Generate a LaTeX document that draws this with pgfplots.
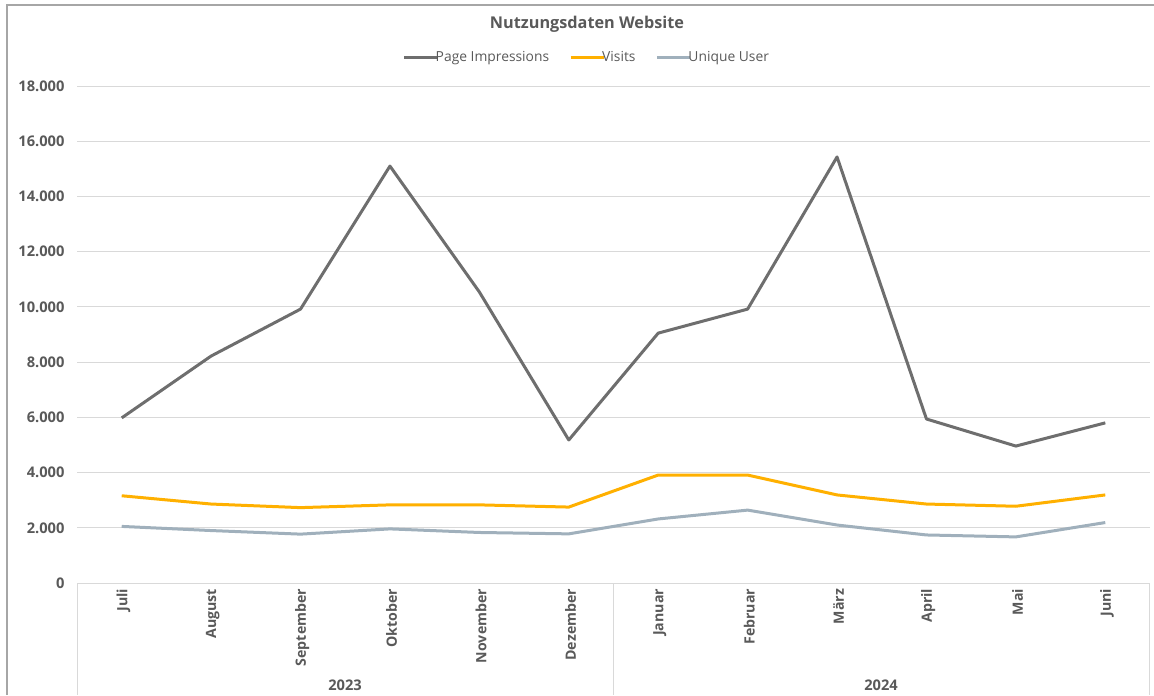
\documentclass[border=0pt]{standalone}
\usepackage{pgfplots}
\pgfplotsset{compat=1.18}
\usepackage{fontspec}
\setmainfont{Open Sans}
\definecolor{tc}{HTML}{595959}
\definecolor{gridc}{HTML}{D9D9D9}
\definecolor{framec}{HTML}{A6A6A6}
\definecolor{pic}{HTML}{6E6E6E}
\definecolor{visc}{HTML}{FFB000}
\definecolor{uuc}{HTML}{A0B0BC}
\begin{document}
\begin{tikzpicture}
\begin{scope}[x=0.6pt,y=-0.6pt]
\path[use as bounding box] (0,0) rectangle (1154,695);
\draw[framec, line width=0.9pt] (7,695) -- (7,5) -- (1154,5);
\node[font=\bfseries\fontsize{9.75}{12}\selectfont, text=tc] at (587,24) {Nutzungsdaten Website};
\draw[gridc, line width=0.6pt] (77,583) -- (77,695) (613,583) -- (613,695) (1149,583) -- (1149,695);
\node[font=\bfseries\fontsize{8.8}{10}\selectfont, text=tc] at (345,685) {2023};
\node[font=\bfseries\fontsize{8.8}{10}\selectfont, text=tc] at (881,685) {2024};
\end{scope}
\begin{axis}[
  at={(46.2pt,-349.8pt)}, anchor=south west,
  scale only axis, width=643.8pt, height=298.2pt,
  xmin=-0.5, xmax=11.5, ymin=0, ymax=18000,
  xtick={0,...,11},
  xticklabels={Juli,August,September,Oktober,November,Dezember,Januar,Februar,März,April,Mai,Juni},
  ytick={0,2000,...,18000},
  axis line style={draw=none},
  tick style={draw=none},
  ymajorgrids, major grid style={gridc, line width=0.6pt},
  /pgf/number format/assume math mode=true,
  /pgf/number format/1000 sep={.},
  scaled y ticks=false,
  ticklabel style={font=\bfseries\fontsize{8.8}{10}\selectfont, text=tc},
  xticklabel style={rotate=90, anchor=east, yshift=-1pt, font=\bfseries\fontsize{8.5}{10}\selectfont},
  yticklabel style={xshift=-4pt},
  legend style={draw=none, fill=none, at={(0.475,1.058)}, anchor=center,
    font=\fontsize{8.3}{10}\selectfont, text=tc,
    nodes={inner xsep=1pt},
    /tikz/every even column/.append style={column sep=11pt}},
  legend columns=3,
  legend image code/.code={\path (0pt,0pt) -- (17pt,0pt);\draw[#1,overlay] (3pt,0pt) -- (20pt,0pt);},
  every axis plot/.append style={line width=1.8pt, line join=round},
]
\addplot[pic] coordinates {(0,5980) (1,8220) (2,9920) (3,15100) (4,10540) (5,5180) (6,9050) (7,9920) (8,15430) (9,5940) (10,4960) (11,5800)};
\addlegendentry{Page Impressions}
\addplot[visc] coordinates {(0,3160) (1,2860) (2,2730) (3,2830) (4,2830) (5,2750) (6,3910) (7,3910) (8,3190) (9,2860) (10,2780) (11,3190)};
\addlegendentry{Visits}
\addplot[uuc] coordinates {(0,2050) (1,1900) (2,1770) (3,1960) (4,1830) (5,1780) (6,2320) (7,2640) (8,2100) (9,1740) (10,1670) (11,2190)};
\addlegendentry{Unique User}
\end{axis}
\end{tikzpicture}
\end{document}
